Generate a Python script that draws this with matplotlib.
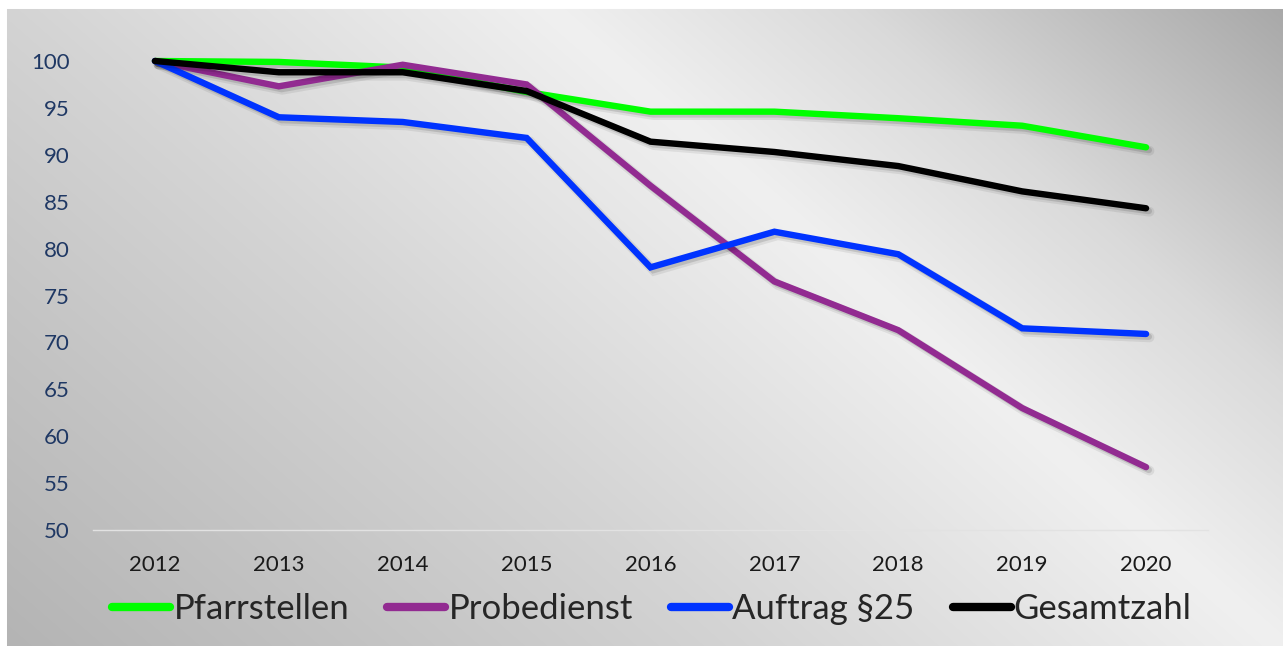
import numpy as np
import matplotlib
matplotlib.use('Agg')
import matplotlib.pyplot as plt
import matplotlib.patheffects as pe

years = [2012, 2013, 2014, 2015, 2016, 2017, 2018, 2019, 2020]
pfarrstellen = [100, 99.9, 99.3, 96.7, 94.6, 94.6, 93.9, 93.1, 90.8]
probedienst = [100, 97.3, 99.6, 97.5, 86.7, 76.5, 71.3, 63.0, 56.7]
auftrag25 = [100, 94.0, 93.5, 91.8, 78.0, 81.8, 79.4, 71.5, 70.9]
gesamtzahl = [100, 98.8, 98.8, 96.8, 91.4, 90.3, 88.8, 86.1, 84.3]

series_names = ['Pfarrstellen', 'Probedienst', 'Auftrag §25', 'Gesamtzahl']
series_colors = ['#00ff00', '#922b91', '#0033ff', '#000000']

plt.rcParams['font.family'] = ['Lato', 'DejaVu Sans']

W, H = 1283, 646
fig = plt.figure(figsize=(W / 100, H / 100), dpi=100)

# background gradient (grey - light - grey along a diagonal), white margin
yy, xx = np.mgrid[0:H, 0:W]
t = ((xx - 550) * 632 - (yy - 8) * 725) / 961.8
grey = np.interp(t, [-900, -600, -350, 0, 200, 500], [176, 195, 212, 240, 218, 165]) / 255
bg = np.dstack([grey, grey, grey])
bg[:9, :, :] = 1
bg[:, :7, :] = 1
bax = fig.add_axes([0, 0, 1, 1], zorder=-1)
bax.imshow(bg, aspect='auto', interpolation='bilinear')
bax.axis('off')

ax = fig.add_axes([93 / W, (H - 530) / H, (1208 - 93) / W, (530 - 61) / H])
ax.set_facecolor('none')

# soft drop shadow under the lines
shadow = [pe.SimpleLineShadow(offset=(2.5, -2.5), shadow_color='k', alpha=0.07, linewidth=7),
          pe.SimpleLineShadow(offset=(2, -2), shadow_color='k', alpha=0.12),
          pe.Normal()]

data = [pfarrstellen, probedienst, auftrag25, gesamtzahl]
for vals, name, col in zip(data, series_names, series_colors):
    ax.plot(years, vals, color=col, lw=4.6, label=name, solid_capstyle='round',
            solid_joinstyle='miter', clip_on=False, path_effects=shadow)

ax.set_xlim(2011.5, 2020.5)
ax.set_ylim(50, 100)
ax.set_xticks(years)
ax.set_xticklabels([str(y) for y in years])
ax.set_yticks(range(50, 101, 5))
ax.tick_params(axis='both', length=0)
ax.tick_params(axis='y', labelsize=16, labelcolor='#1f3864', pad=17)
ax.tick_params(axis='x', labelsize=16, labelcolor='#1a1a1a', pad=18)
for s in ['top', 'right', 'left']:
    ax.spines[s].set_visible(False)
ax.spines['bottom'].set_color('#e2e2e2')
ax.spines['bottom'].set_linewidth(1)

handles, labels = ax.get_legend_handles_labels()
leg = fig.legend(handles, labels, loc='center', bbox_to_anchor=(652 / W, 1 - 609 / H),
                 ncol=4, frameon=False, fontsize=25, handlelength=1.67,
                 handletextpad=0.09, columnspacing=1.1, labelcolor='#262626')
for h in leg.legend_handles:
    h.set_linewidth(6)
    h.set_path_effects([])

fig.savefig('out.png', dpi=100)
